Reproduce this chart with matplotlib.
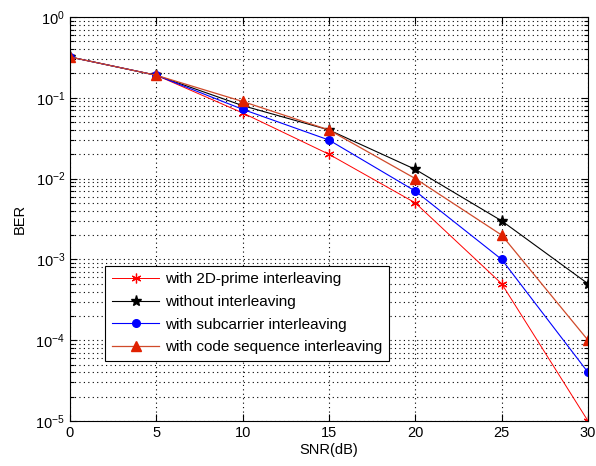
import matplotlib
matplotlib.use("Agg")
import matplotlib.pyplot as plt
from matplotlib.ticker import LogLocator, NullFormatter, MultipleLocator

plt.rcParams['font.family'] = ['Liberation Sans', 'DejaVu Sans']
plt.rcParams['mathtext.fontset'] = 'custom'
plt.rcParams['mathtext.rm'] = 'Liberation Sans'
plt.rcParams['mathtext.it'] = 'Liberation Sans'

snr_db = [0, 5, 10, 15, 20, 25, 30]
ber_2d_prime = [0.32, 0.19, 0.065, 0.02, 0.005, 0.0005, 1e-5]
ber_none = [0.32, 0.19, 0.08, 0.04, 0.013, 0.003, 5e-4]
ber_subcarrier = [0.32, 0.19, 0.072, 0.03, 0.007, 0.001, 4e-5]
ber_code_seq = [0.32, 0.19, 0.09, 0.04, 0.01, 0.002, 1e-4]

labels = ['with 2D-prime interleaving', 'without interleaving',
          'with subcarrier interleaving', 'with code sequence interleaving']

fig = plt.figure(figsize=(5.96, 4.66), dpi=100)
ax = fig.add_axes([70/596, 1-421/466, 518/596, 404/466])

ax.semilogy(snr_db, ber_2d_prime, color='#ff0000', lw=0.7, marker=(6, 2, 0),
            ms=7, mew=0.9, mec='#ff0000', label=labels[0])
ax.semilogy(snr_db, ber_none, color='black', lw=0.8, marker='*',
            ms=8, mfc='black', mec='black', label=labels[1])
ax.semilogy(snr_db, ber_subcarrier, color='#0000ff', lw=0.8, marker='o',
            ms=5.5, mfc='#0000ff', mec='#0000ff', label=labels[2])
ax.semilogy(snr_db, ber_code_seq, color='#d04a2a', lw=0.9, marker='^',
            ms=7, mfc='#e02000', mec='#e02000', label=labels[3])

ax.set_xlim(0, 30)
ax.set_ylim(1e-5, 1)
ax.xaxis.set_major_locator(MultipleLocator(5))
ax.yaxis.set_major_locator(LogLocator(base=10, numticks=10))
ax.yaxis.set_minor_locator(LogLocator(base=10, subs=range(2, 10), numticks=20))
ax.yaxis.set_minor_formatter(NullFormatter())

ax.grid(True, which='major', axis='both', linestyle=(0, (1, 3)), color='black', lw=0.8)
ax.grid(True, which='minor', axis='y', linestyle=(0, (1, 3)), color='black', lw=0.8)

ax.tick_params(which='both', direction='in', top=True, right=True,
               labelsize=10.5, width=0.8)
ax.tick_params(which='major', length=5)
ax.tick_params(which='minor', length=3)
for s in ax.spines.values():
    s.set_linewidth(0.8)

ax.set_xlabel('SNR(dB)', fontsize=10.5, labelpad=2)
ax.set_ylabel('BER', fontsize=10.5, labelpad=6)

leg = ax.legend(loc='lower left', bbox_to_anchor=(35/518, 60/404),
                borderaxespad=0, numpoints=1, fontsize=11, handlelength=3.1,
                labelspacing=0.56, handletextpad=0.4, borderpad=0.45,
                fancybox=False, framealpha=1, edgecolor='black')
leg.get_frame().set_linewidth(0.8)

fig.savefig('out.png', dpi=100)
